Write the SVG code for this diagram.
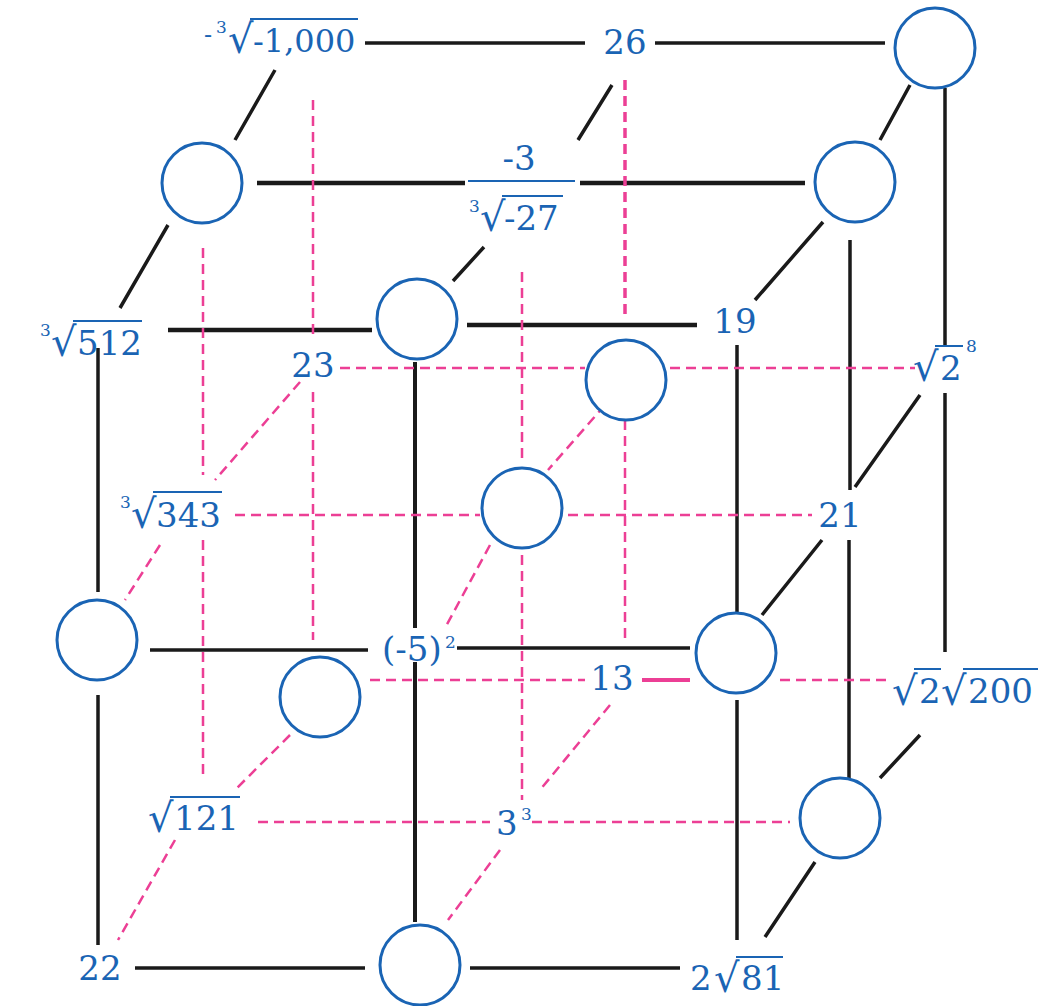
<svg xmlns="http://www.w3.org/2000/svg" width="1042" height="1006" viewBox="0 0 1042 1006">
<style>
.c{fill:#fff;stroke:#1a64b4;stroke-width:3}
.t{font-family:"DejaVu Serif",serif;font-size:34px;fill:#1a64b4}
.m{text-anchor:middle}
.s{font-size:17px}
.r{font-size:40px}
.b{stroke:#1a1a1a;stroke-width:3.5;fill:none}
.p{stroke:#ec3f95;stroke-width:2.5;stroke-dasharray:10 6;fill:none}
.v{stroke:#1a64b4;stroke-width:2}
</style>
<rect width="1042" height="1006" fill="#fff"/>
<g id="connectors">
<g class="b">
<path d="M365 43H585M655 43H885"/>
<path d="M257 183H465M580 183H805" stroke-width="4.5"/>
<path d="M168 330H372M467 325H697" stroke-width="4.5"/>
<path d="M275 70L235 140M168 225L120 308"/>
<path d="M612 85L578 140M484 247L453 281"/>
<path d="M910 85L880 140M823 222L755 300"/>
<path d="M98 348V592M98 695V945"/>
<path d="M415 362V628M415 662V922" stroke-width="4"/>
<path d="M737 345V612M737 700V940"/>
<path d="M150 650H368M457 648H690"/>
<path d="M135 968H365M470 968H680"/>
<path d="M945 88V345M945 393V652"/>
<path d="M850 240V490M849 540V782"/>
<path d="M920 395L855 487M822 540L762 615"/>
<path d="M920 735L880 778M815 862L765 937"/>
</g>
<g class="p">
<path d="M313 100V340M313 392V640"/>
<path d="M625 80V320" stroke-width="3.5"/>
<path d="M625 420V640"/>
<path d="M203 248V475M203 540V780"/>
<path d="M522 272V462M522 555V800"/>
<path d="M340 368H585M670 368H915"/>
<path d="M235 515H480M568 515H812"/>
<path d="M370 680H585M780 680H890"/>
<path d="M642 680H690" stroke-dasharray="none" stroke-width="4"/>
<path d="M258 822H490M532 822H790"/>
<path d="M300 382L215 480M160 545L125 600"/>
<path d="M290 735L235 790M175 840L118 940"/>
<path d="M605 405L548 470M490 545L445 628"/>
<path d="M610 705L540 790M500 850L448 920"/>
</g>
</g>
<g id="n1"><circle class="c" cx="935" cy="48" r="40"/></g>
<g id="n2"><circle class="c" cx="202" cy="183" r="40"/></g>
<g id="n3"><circle class="c" cx="855" cy="182" r="40"/></g>
<g id="n4"><circle class="c" cx="417" cy="319" r="40"/></g>
<g id="n5"><circle class="c" cx="626" cy="380" r="40"/></g>
<g id="n6"><circle class="c" cx="522" cy="508" r="40"/></g>
<g id="n7"><circle class="c" cx="97" cy="640" r="40"/></g>
<g id="n8"><circle class="c" cx="320" cy="697" r="40"/></g>
<g id="n9"><circle class="c" cx="736" cy="653" r="40"/></g>
<g id="n10"><circle class="c" cx="840" cy="818" r="40"/></g>
<g id="n11"><circle class="c" cx="420" cy="965" r="40"/></g>
<g id="l-1000" class="t">
<text x="204" y="43" font-size="24">-</text>
<text x="216" y="33" class="s">3</text>
<text x="228" y="53" class="r">√</text>
<line class="v" x1="250" y1="19" x2="358" y2="19"/>
<text x="253" y="52" font-size="32">-1,000</text>
</g>
<g id="l26"><text class="t m" x="625" y="54">26</text></g>
<g id="lfrac" class="t">
<text class="m" x="519" y="170">-3</text>
<line class="v" x1="468" y1="181" x2="575" y2="181"/>
<text x="469" y="212" class="s">3</text>
<text x="480" y="231" class="r">√</text>
<line class="v" x1="502" y1="196" x2="563" y2="196"/>
<text x="504" y="230">-27</text>
</g>
<g id="l512" class="t">
<text x="40" y="336" class="s">3</text>
<text x="51" y="356" class="r">√</text>
<line class="v" x1="73" y1="321" x2="142" y2="321"/>
<text x="77" y="355">512</text>
</g>
<g id="l19"><text class="t m" x="735" y="333">19</text></g>
<g id="l23"><text class="t m" x="313" y="377">23</text></g>
<g id="lroot2p8" class="t">
<text x="913" y="381" class="r">√</text>
<line class="v" x1="935" y1="346" x2="963" y2="346"/>
<text x="940" y="380">2</text>
<text x="966" y="352" class="s">8</text>
</g>
<g id="l343" class="t">
<text x="120" y="508" class="s">3</text>
<text x="131" y="528" class="r">√</text>
<line class="v" x1="153" y1="492" x2="222" y2="492"/>
<text x="156" y="527">343</text>
</g>
<g id="l21"><text class="t m" x="840" y="527">21</text></g>
<g id="lm5sq" class="t">
<text x="382" y="661">(-5)</text>
<text x="445" y="648" class="s">2</text>
</g>
<g id="l13"><text class="t m" x="612" y="690">13</text></g>
<g id="lroot2root200" class="t">
<text x="892" y="705" class="r">√</text>
<line class="v" x1="914" y1="669" x2="941" y2="669"/>
<text x="919" y="703">2</text>
<text x="941" y="705" class="r">√</text>
<line class="v" x1="963" y1="669" x2="1038" y2="669"/>
<text x="968" y="703">200</text>
</g>
<g id="l121" class="t">
<text x="148" y="832" class="r">√</text>
<line class="v" x1="170" y1="797" x2="240" y2="797"/>
<text x="174" y="830">121</text>
</g>
<g id="l3cube" class="t">
<text x="496" y="835">3</text>
<text x="521" y="820" class="s">3</text>
</g>
<g id="l22"><text class="t m" x="100" y="980">22</text></g>
<g id="l2root81" class="t">
<text x="690" y="990">2</text>
<text x="714" y="992" class="r">√</text>
<line class="v" x1="736" y1="957" x2="783" y2="957"/>
<text x="741" y="990">81</text>
</g>
</svg>
